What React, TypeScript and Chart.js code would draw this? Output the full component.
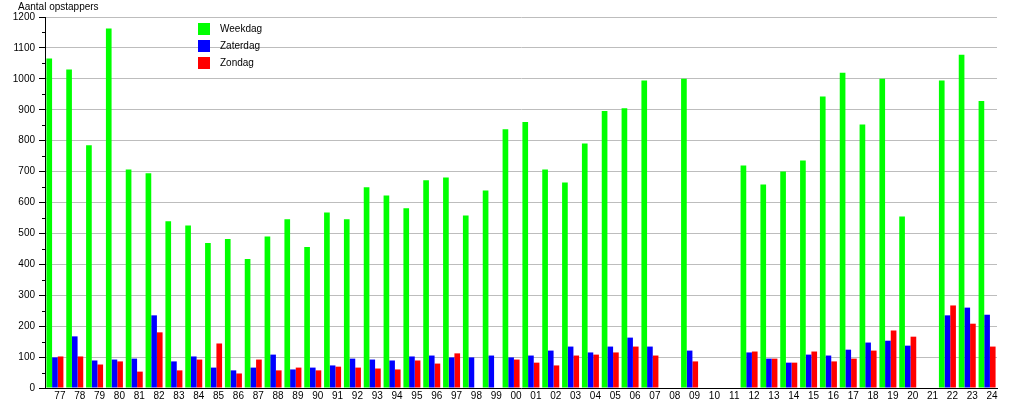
import React, { useEffect, useRef } from "react";
import { Chart, registerables } from "chart.js";

Chart.register(...registerables);

const FONT = "'Liberation Sans', Arial, Helvetica, sans-serif";

const titleText = "Aantal opstappers";

const years = [
  "77", "78", "79", "80", "81", "82", "83", "84", "85", "86", "87", "88", "89", "90", "91", "92", "93",
  "94", "95", "96", "97", "98", "99",
  "00", "01", "02", "03", "04", "05", "06", "07", "08", "09",
  "10", "11", "12", "13", "14", "15", "16", "17", "18", "19",
  "20", "21", "22", "23", "24",
];

const weekdag = [
  1066, 1030, 785, 1163, 707, 695, 539, 526, 469, 482, 417, 490, 546, 456, 568, 546, 649,
  623, 581, 672, 681, 558, 639,
  837, 860, 707, 665, 791, 896, 905, 995, null, 1000,
  null, null, 720, 658, 700, 736, 943, 1020, 852, 1000,
  555, null, 995, 1078, 928,
];

const zaterdag = [
  99, 167, 89, 92, 95, 235, 86, 102, 66, 57, 66, 108, 60, 66, 73, 95, 92,
  89, 102, 105, 99, 99, 105,
  99, 105, 121, 134, 115, 134, 163, 134, null, 121,
  null, null, 115, 95, 82, 108, 105, 124, 147, 153,
  137, null, 235, 260, 237,
];

const zondag = [
  102, 102, 76, 86, 53, 180, 57, 92, 144, 47, 92, 57, 66, 57, 69, 66, 63,
  60, 89, 79, 112, null, null,
  92, 82, 73, 105, 108, 115, 134, 105, null, 86,
  null, null, 118, 95, 82, 118, 86, 95, 121, 186,
  166, null, 267, 208, 134,
];

const seriesNames = ["Weekdag", "Zaterdag", "Zondag"];
const seriesColors = ["#00ff00", "#0000ff", "#ff0000"];

const decorPlugin = {
  id: "decor",
  afterDraw(chart: any) {
    const { ctx, chartArea, scales } = chart;
    const y = scales.y;
    ctx.save();
    // minor tick marks
    ctx.strokeStyle = "#000";
    ctx.lineWidth = 1;
    y.ticks.forEach((t: any) => {
      if (t.value % 100 !== 0) {
        const py = Math.round(y.getPixelForValue(t.value)) + 0.5;
        ctx.beginPath();
        ctx.moveTo(chartArea.left - 3, py);
        ctx.lineTo(chartArea.left, py);
        ctx.stroke();
      }
    });
    // axis title
    ctx.font = `10px ${FONT}`;
    ctx.fillStyle = "#000";
    ctx.textAlign = "left";
    ctx.textBaseline = "alphabetic";
    ctx.fillText(titleText, chartArea.left - 27, chartArea.top - 7);
    // legend inside plot
    const lx = chartArea.left + 153;
    const ly = chartArea.top + 6;
    chart.data.datasets.forEach((ds: any, i: number) => {
      const yy = ly + i * 17;
      ctx.fillStyle = ds.backgroundColor;
      ctx.fillRect(lx, yy, 12, 12);
      ctx.fillStyle = "#000";
      ctx.textBaseline = "middle";
      ctx.fillText(ds.label, lx + 22, yy + 6.5);
    });
    ctx.restore();
  },
};

export default function App() {
  const canvasRef = useRef<HTMLCanvasElement | null>(null);

  useEffect(() => {
    if (!canvasRef.current) return;
    const seriesData = [weekdag, zaterdag, zondag];
    const chart = new Chart(canvasRef.current, {
      type: "bar",
      data: {
        labels: years,
        datasets: seriesNames.map((name, i) => ({
          label: name,
          data: seriesData[i],
          backgroundColor: seriesColors[i],
          borderWidth: 0,
          categoryPercentage: 0.857,
          barPercentage: 1.0,
        })),
      },
      options: {
        animation: false,
        responsive: false,
        devicePixelRatio: 1,
        layout: { padding: { top: 17, right: 18, left: 0, bottom: 0 } },
        plugins: {
          legend: { display: false },
          tooltip: { enabled: false },
          title: { display: false },
        },
        scales: {
          x: {
            type: "category",
            grid: { display: false, drawTicks: false },
            border: { display: true, color: "#000", width: 1 },
            ticks: {
              font: { family: FONT, size: 10 },
              color: "#000",
              autoSkip: false,
              maxRotation: 0,
              minRotation: 0,
              padding: 2,
              labelOffset: 5,
            },
            afterFit: (s: any) => {
              s.height = 12;
            },
          },
          y: {
            min: 0,
            max: 1200,
            ticks: {
              stepSize: 50,
              font: { family: FONT, size: 10 },
              color: "#000",
              padding: 4,
              callback: (v: any) => (Number(v) % 100 === 0 ? String(v) : ""),
            },
            grid: {
              color: (c: any) =>
                c.tick && c.tick.value % 100 === 0 ? "#bdbdbd" : "rgba(0,0,0,0)",
              tickColor: (c: any) =>
                c.tick && c.tick.value % 100 === 0 ? "#000" : "rgba(0,0,0,0)",
              tickLength: 6,
              lineWidth: 1,
            },
            border: { display: true, color: "#000", width: 1 },
            afterFit: (s: any) => {
              s.width = 45;
            },
          },
        },
      },
      plugins: [decorPlugin],
    });
    return () => chart.destroy();
  }, []);

  return (
    <div style={{ position: "absolute", left: 0, top: 0, width: 1015, height: 400, background: "#fff" }}>
      <canvas ref={canvasRef} width={1015} height={400} style={{ display: "block" }} />
    </div>
  );
}
